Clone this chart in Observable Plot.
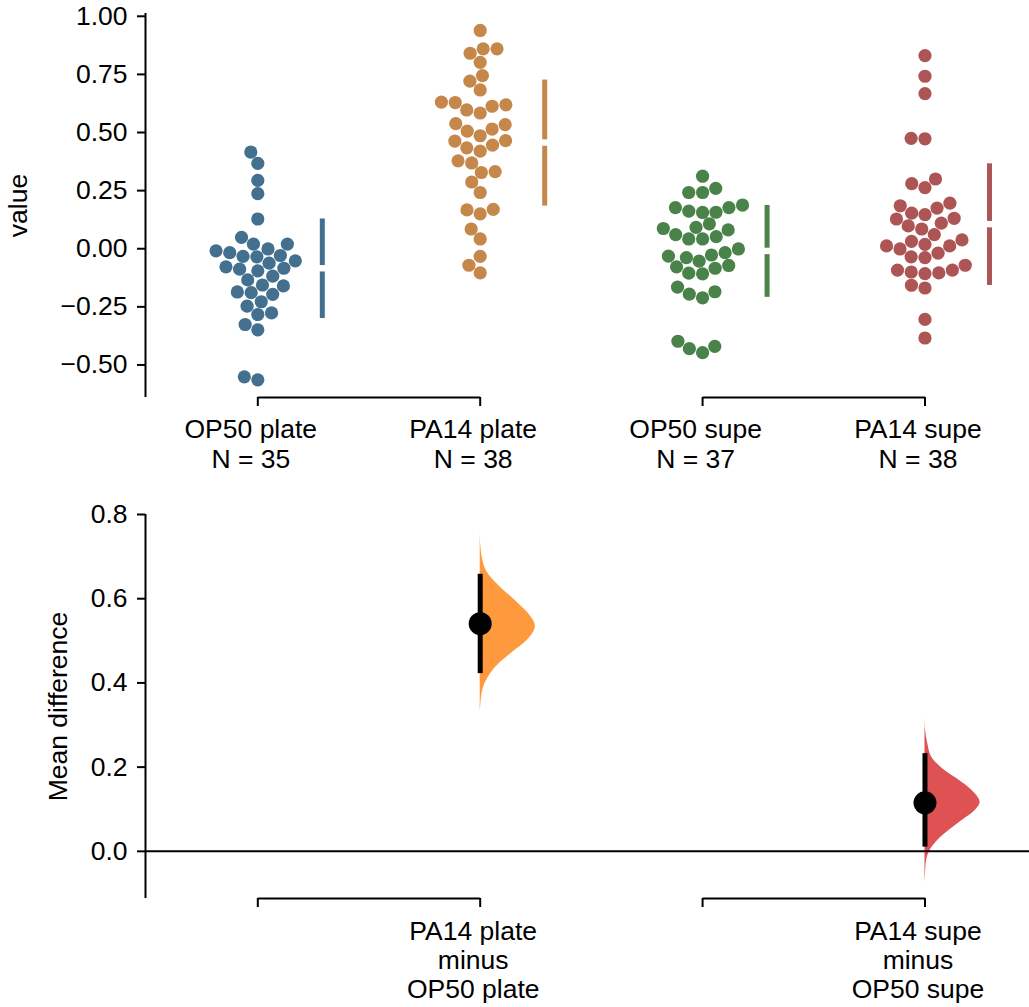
<!DOCTYPE html>
<html><head><meta charset="utf-8">
<script src="https://cdn.jsdelivr.net/npm/d3@7"></script>
<script src="https://cdn.jsdelivr.net/npm/@observablehq/plot@0.6"></script>
<style>
body{margin:0;background:#fff;}
#chart{width:1029px;font-family:"Liberation Sans",Arial,sans-serif;color:#000;}
#chart svg{display:block;overflow:visible;}
</style></head><body><div id="chart"></div>
<script>
// ---------- data ----------
const groups = ["OP50 plate", "PA14 plate", "OP50 supe", "PA14 supe"];
const op50Plate = [0.416,0.367,0.294,0.237,0.128,0.049,0.020,0.020,-0.001,-0.017,-0.009,-0.029,-0.033,-0.035,-0.078,-0.052,-0.062,-0.088,-0.095,-0.084,-0.118,-0.134,-0.156,-0.160,-0.186,-0.189,-0.196,-0.228,-0.247,-0.283,-0.276,-0.326,-0.349,-0.551,-0.564];
const pa14Plate = [0.939,0.841,0.860,0.860,0.802,0.721,0.745,0.683,0.619,0.613,0.584,0.597,0.629,0.631,0.534,0.515,0.486,0.506,0.538,0.465,0.446,0.420,0.434,0.463,0.378,0.369,0.328,0.332,0.287,0.242,0.167,0.150,0.169,0.085,0.042,-0.033,-0.071,-0.104];
const op50Supe = [0.312,0.260,0.242,0.242,0.188,0.177,0.157,0.156,0.162,0.177,0.107,0.092,0.081,0.052,0.042,0.042,0.061,0.087,-0.001,-0.017,-0.027,-0.032,-0.038,-0.053,-0.078,-0.072,-0.084,-0.105,-0.108,-0.165,-0.195,-0.211,-0.185,-0.398,-0.430,-0.447,-0.420];
const pa14Supe = [0.831,0.742,0.667,0.475,0.473,0.280,0.263,0.300,0.153,0.128,0.175,0.147,0.185,0.196,0.131,0.110,0.098,0.085,0.061,0.032,0.012,0.038,0.019,-0.019,-0.038,-0.035,-0.001,0.012,-0.092,-0.100,-0.107,-0.104,-0.092,-0.071,-0.157,-0.169,-0.304,-0.384];
const groupValues = [op50Plate, pa14Plate, op50Supe, pa14Supe];
const groupColors = ["#44708F", "#C6874B", "#498349", "#AD5454"];

const comparisons = ["PA14 plate\nminus\nOP50 plate", "PA14 supe\nminus\nOP50 supe"];
const compTest = [1, 3];
const compControl = [0, 2];
const ciLow = [0.422, 0.010];
const ciHigh = [0.658, 0.232];
const violinColors = ["#FF993E", "#DE5253"];
// bootstrap density outline (value, relative density)
const violinPlateV = [0.763,0.727,0.696,0.664,0.632,0.608,0.585,0.561,0.537,0.521,0.497,0.474,0.450,0.426,0.402,0.379,0.347,0.331];
const violinPlateD = [0,0.01,0.04,0.12,0.33,0.53,0.72,0.90,1.0,0.97,0.82,0.60,0.38,0.21,0.10,0.04,0.01,0];
const violinSupeV = [0.327,0.288,0.256,0.224,0.192,0.169,0.145,0.117,0.097,0.074,0.050,0.026,0.002,-0.021,-0.053,-0.077];
const violinSupeD = [0,0.01,0.05,0.12,0.36,0.62,0.85,1.0,0.91,0.68,0.44,0.23,0.09,0.03,0.01,0];
const violins = [[violinPlateV, violinPlateD], [violinSupeV, violinSupeD]];

const valueTicks = [-0.5, -0.25, 0, 0.25, 0.5, 0.75, 1];
const diffTicks = [0, 0.2, 0.4, 0.6, 0.8];

// ---------- layout ----------
const W = 1029, ML = 145, MR = 0;
const xDomain = [-0.505, 3.47];
const pxPerX = (W - ML - MR) / (xDomain[1] - xDomain[0]);
const FONT = 26.5;
const FAMILY = '"Liberation Sans", Arial, sans-serif';
const LABEL_DX = -7;
const BAR_OFFSET_PX = 64.5;

const topH = 485, topMT = 13, topMB = 88;
const topDomain = [-0.64, 1.012];
const pxPerYTop = (topH - topMT - topMB) / (topDomain[1] - topDomain[0]);

const botH = 522, botMT = 29, botMB = 109;
const botDomain = [-0.112, 0.8];

const R = 6.6;

// seaborn-style beeswarm (pixel offsets from the group centre)
function swarm(values, pxPerY, r) {
  const order = d3.range(values.length).sort((a, b) => values[a] - values[b] || a - b);
  const placed = [];
  const xs = new Array(values.length);
  order.forEach((i, n) => {
    const y = values[i] * pxPerY;
    if (n === 0) { placed.push({x: 0, y}); xs[i] = 0; return; }
    const nb = [];
    for (let j = placed.length - 1; j >= 0; j--) {
      if (y - placed[j].y < 2 * r) nb.push(placed[j]); else break;
    }
    const cands = [0];
    let leftFirst = true;
    for (const p of nb) {
      const dy = y - p.y;
      const dx = Math.sqrt(Math.max(4 * r * r - dy * dy, 0)) * 1.05;
      if (leftFirst) cands.push(p.x - dx, p.x + dx); else cands.push(p.x + dx, p.x - dx);
      leftFirst = !leftFirst;
    }
    const sorted = cands.map((x, k) => ({x, k})).sort((a, b) => (Math.abs(a.x) - Math.abs(b.x)) || (a.k - b.k));
    let chosen = sorted[0].x;
    for (const c of sorted) {
      if (nb.every(p => (p.x - c.x) ** 2 + (p.y - y) ** 2 >= 4 * r * r - 1e-6)) { chosen = c.x; break; }
    }
    placed.push({x: chosen, y});
    xs[i] = chosen;
  });
  return xs;
}

const dots = [];
const stats = [];
groupValues.forEach((vals, g) => {
  const offs = swarm(vals, pxPerYTop, R);
  vals.forEach((v, i) => dots.push({g, v, x: g + offs[i] / pxPerX}));
  const m = d3.mean(vals), sd = d3.deviation(vals);
  const bx = g + BAR_OFFSET_PX / pxPerX;
  const gap = 3.2 / pxPerYTop;
  stats.push({g, x: bx, y1: m + sd, y2: m + gap});
  stats.push({g, x: bx, y1: m - gap, y2: m - sd});
});
const brackets = [{x1: 0, x2: 1}, {x1: 2, x2: 3}];

const fmt2 = d3.format(".2f"), fmt1 = d3.format(".1f");
const style = {fontFamily: FAMILY, fontSize: FONT + "px", color: "#000", background: "#fff"};

const topPlot = Plot.plot({
  width: W, height: topH,
  marginLeft: ML, marginRight: MR, marginTop: topMT, marginBottom: topMB,
  style,
  x: {domain: xDomain},
  y: {domain: topDomain},
  marks: [
    Plot.ruleX([xDomain[0]], {y1: topDomain[0], y2: topDomain[1], stroke: "#000", strokeWidth: 2}),
    Plot.axisY({ticks: valueTicks, tickFormat: fmt2, tickSize: 8, tickPadding: 10, strokeWidth: 2, fontSize: FONT, label: null}),
    Plot.axisX({ticks: [0, 1, 2, 3], tickSize: 9, strokeWidth: 2, tickFormat: () => "", label: null}),
    Plot.link(brackets, {x1: "x1", x2: "x2", y1: topDomain[0], y2: topDomain[0], stroke: "#000", strokeWidth: 2}),
    Plot.text(groups, {x: (d, i) => i, y: topDomain[0], text: (d, i) => `${d}\nN = ${groupValues[i].length}`, lineAnchor: "top", dx: LABEL_DX, dy: 19.2, fontSize: FONT, lineHeight: 1.13, fill: "#000"}),
    Plot.text(["value"], {frameAnchor: "left", textAnchor: "middle", lineAnchor: "middle", rotate: -90, dx: 18 - ML, fontSize: FONT, fill: "#000"}),
    Plot.dot(dots, {x: "x", y: "v", r: R, fill: d => groupColors[d.g], stroke: "none"}),
    Plot.ruleX(stats, {x: "x", y1: "y1", y2: "y2", stroke: d => groupColors[d.g], strokeWidth: 5})
  ]
});

const diffs = compTest.map((t, i) => d3.mean(groupValues[t]) - d3.mean(groupValues[compControl[i]]));
const violinRows = [];
violins.forEach(([vs, ds], i) => vs.forEach((v, k) => violinRows.push({c: i, v, x1: compTest[i], x2: compTest[i] + ds[k] * 0.248})));
const ciRows = compTest.map((t, i) => ({x: t, y1: ciLow[i], y2: ciHigh[i]}));
const diffRows = compTest.map((t, i) => ({x: t, y: diffs[i]}));

const botPlot = Plot.plot({
  width: W, height: botH,
  marginLeft: ML, marginRight: MR, marginTop: botMT, marginBottom: botMB,
  style,
  x: {domain: xDomain},
  y: {domain: botDomain},
  marks: [
    Plot.areaX(violinRows, {x1: "x1", x2: "x2", y: "v", z: "c", fill: d => violinColors[d.c], curve: "catmull-rom"}),
    Plot.ruleY([0], {stroke: "#000", strokeWidth: 2}),
    Plot.ruleX([xDomain[0]], {y1: botDomain[0], y2: botDomain[1], stroke: "#000", strokeWidth: 2}),
    Plot.axisY({ticks: diffTicks, tickFormat: fmt1, tickSize: 8, tickPadding: 10, strokeWidth: 2, fontSize: FONT, label: null}),
    Plot.axisX({ticks: [0, 1, 2, 3], tickSize: 9, strokeWidth: 2, tickFormat: () => "", label: null}),
    Plot.link(brackets, {x1: "x1", x2: "x2", y1: botDomain[0], y2: botDomain[0], stroke: "#000", strokeWidth: 2}),
    Plot.text(comparisons, {x: (d, i) => compTest[i], y: botDomain[0], text: d => d, lineAnchor: "top", dx: LABEL_DX, dy: 20.9, fontSize: FONT, lineHeight: 1.095, fill: "#000"}),
    Plot.text(["Mean difference"], {frameAnchor: "left", textAnchor: "middle", lineAnchor: "middle", rotate: -90, dx: 58 - ML, fontSize: FONT, fill: "#000"}),
    Plot.ruleX(ciRows, {x: "x", y1: "y1", y2: "y2", stroke: "#000", strokeWidth: 5}),
    Plot.dot(diffRows, {x: "x", y: "y", r: 11.5, fill: "#000"})
  ]
});

document.getElementById("chart").append(topPlot, botPlot);
</script>
</body></html>
